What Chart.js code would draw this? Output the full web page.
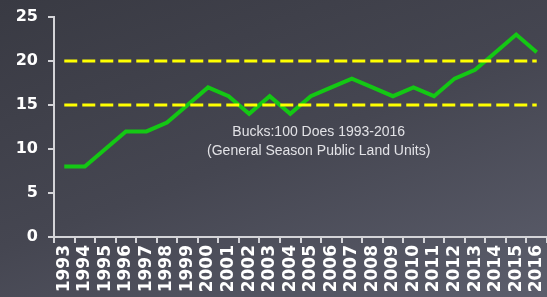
<!DOCTYPE html>
<html>
<head>
<meta charset="utf-8">
<script src="https://cdn.jsdelivr.net/npm/chart.js@4"></script>
<style>
  html, body { margin: 0; padding: 0; }
  body {
    width: 547px;
    height: 297px;
    overflow: hidden;
    background: linear-gradient(160deg, #393a43 0%, #454651 50%, #5c5e6c 100%);
  }
  #wrap { position: relative; width: 547px; height: 297px; }
</style>
</head>
<body>
<div id="wrap"><canvas id="chart"></canvas></div>
<script>
const years = ['1993', '1994', '1995', '1996', '1997', '1998', '1999', '2000', '2001', '2002', '2003', '2004',
  '2005', '2006', '2007', '2008', '2009', '2010', '2011', '2012', '2013', '2014', '2015', '2016'];
const bucksPer100Does = [8, 8, 10, 12, 12, 13, 15, 17, 16, 14, 16, 14, 16, 17, 18, 17, 16, 17, 16, 18, 19, 21, 23, 21];
const upperLine = years.map(() => 20);
const lowerLine = years.map(() => 15);
const yTicks = [0, 5, 10, 15, 20, 25];
const captionLines = ['Bucks:100 Does 1993-2016', '(General Season Public Land Units)'];

const axisColor = '#d4d4d8';

// draws the two-line caption inside the plot
const captionPlugin = {
  id: 'caption',
  afterDatasetsDraw(chart) {
    const { ctx, chartArea, scales } = chart;
    const x = chartArea.left + chartArea.width * 0.537;
    const y = scales.y.getPixelForValue(11.9);
    ctx.save();
    ctx.fillStyle = '#e2e2e6';
    ctx.font = '14px "Liberation Sans"';
    ctx.textAlign = 'center';
    ctx.textBaseline = 'middle';
    captionLines.forEach((line, i) => ctx.fillText(line, x, y + i * 19));
    ctx.restore();
  }
};

function init() {
  const ctx = document.getElementById('chart').getContext('2d');
  new Chart(ctx, {
    type: 'line',
    data: {
      labels: years,
      datasets: [
        { data: upperLine, borderColor: '#ffff00', borderWidth: 3, borderDash: [13, 5], pointRadius: 0 },
        { data: lowerLine, borderColor: '#ffff00', borderWidth: 3, borderDash: [13, 5], pointRadius: 0 },
        { data: bucksPer100Does, borderColor: '#14c814', borderWidth: 4, pointRadius: 0, tension: 0 }
      ]
    },
    options: {
      animation: false,
      responsive: true,
      maintainAspectRatio: false,
      layout: { padding: { top: 17, right: 0, bottom: 0, left: 0 } },
      scales: {
        x: {
          offset: true,
          afterFit: (scale) => {
            scale.height = 60;
            scale.paddingLeft = 0;
            scale.paddingRight = 0;
          },
          grid: { offset: true, drawOnChartArea: false, color: axisColor, lineWidth: 2, tickLength: 6 },
          border: { display: true, color: axisColor, width: 2 },
          ticks: {
            color: '#ffffff',
            font: { family: 'DejaVu Sans', weight: 'bold', size: 17 },
            minRotation: 90, maxRotation: 90, autoSkip: false, padding: 2
          }
        },
        y: {
          min: 0,
          max: 25,
          afterBuildTicks: (scale) => { scale.ticks = yTicks.map((v) => ({ value: v })); },
          afterFit: (scale) => {
            scale.width = 54;
            scale.paddingTop = 0;
            scale.paddingBottom = 0;
          },
          grid: { drawOnChartArea: false, color: axisColor, lineWidth: 2, tickLength: 6 },
          border: { display: true, color: axisColor, width: 2 },
          ticks: { color: '#ffffff', font: { family: 'DejaVu Sans', weight: 'bold', size: 16 }, padding: 10 }
        }
      },
      plugins: { legend: { display: false }, tooltip: { enabled: false } }
    },
    plugins: [captionPlugin]
  });
}

document.addEventListener('DOMContentLoaded', init);
</script>
</body>
</html>
